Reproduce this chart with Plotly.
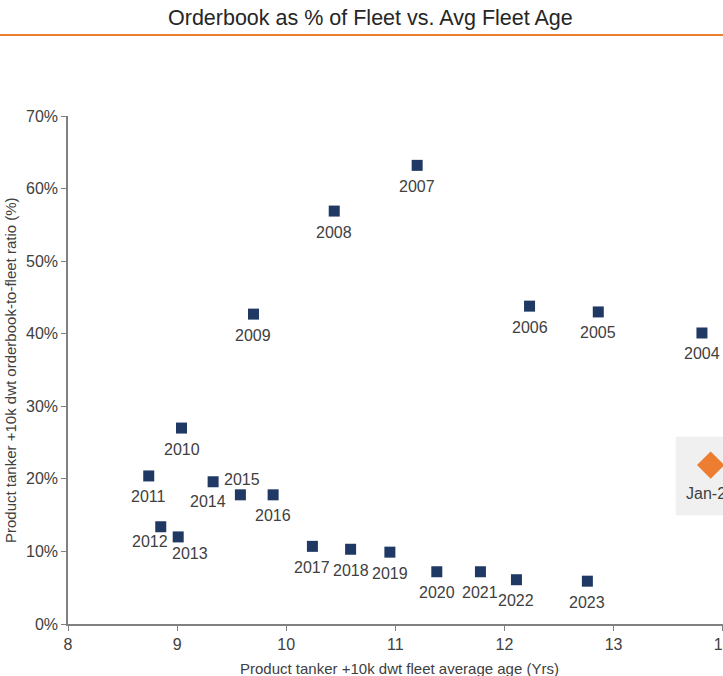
import plotly.graph_objects as go

# Product tanker fleet: average age (years) vs orderbook-to-fleet ratio (%)
years = ["2004", "2005", "2006", "2007", "2008", "2009", "2010", "2011", "2012",
         "2013", "2014", "2015", "2016", "2017", "2018", "2019", "2020", "2021",
         "2022", "2023"]
avg_age = [13.81, 12.86, 12.23, 11.20, 10.44, 9.70, 9.04, 8.74, 8.85,
           9.01, 9.33, 9.58, 9.88, 10.24, 10.59, 10.95, 11.38, 11.78,
           12.11, 12.76]
orderbook_pct = [40.1, 43.0, 43.8, 63.2, 56.9, 42.7, 27.0, 20.4, 13.4,
                 12.0, 19.6, 17.8, 17.8, 10.7, 10.3, 9.9, 7.2, 7.2,
                 6.1, 5.9]

current_label = ["Jan-24"]
current_age = [13.89]
current_pct = [21.9]

NAVY = "#1f3864"
ORANGE = "#ed7d31"
TEXT = "#404040"
AXIS = "#808080"
FONT = "Liberation Sans, Arial, sans-serif"
LABEL_SIZE = 16

fig = go.Figure()

fig.add_trace(go.Scatter(
    x=avg_age, y=orderbook_pct, mode="markers",
    marker=dict(symbol="square", size=11, color=NAVY),
    hoverinfo="skip", showlegend=False, cliponaxis=False,
))

# year labels sit below each marker; a few are nudged to avoid crowding
nudge = {"2012": (-11, -15), "2013": (12, -17), "2014": (-5, -20),
         "2015": (2, 15), "2010": (1, -21)}
for yr, xa, ya in zip(years, avg_age, orderbook_pct):
    dx, dy = nudge.get(yr, (0, -21))
    fig.add_annotation(x=xa, y=ya, text=yr, showarrow=False,
                       xshift=dx, yshift=dy,
                       xanchor="center", yanchor="middle",
                       font=dict(family=FONT, size=LABEL_SIZE, color=TEXT))

# highlighted current point on a light grey panel
cx, cy = current_age[0], current_pct[0]
fig.add_shape(type="rect", xref="x", yref="y",
              x0=cx - 0.32, x1=cx + 0.6, y0=cy - 6.9, y1=cy + 3.9,
              fillcolor="#f0f0f0", line=dict(width=0), layer="below")

fig.add_trace(go.Scatter(
    x=current_age, y=current_pct, mode="markers",
    marker=dict(symbol="diamond", size=21, color=ORANGE),
    hoverinfo="skip", showlegend=False, cliponaxis=False,
))
fig.add_annotation(x=cx, y=cy, text=current_label[0], showarrow=False,
                   xshift=0, yshift=-28, xanchor="center", yanchor="middle",
                   font=dict(family=FONT, size=LABEL_SIZE, color=TEXT))

W, H = 723, 676
L, R, T, B = 68, 0, 116, 52
pw = W - L - R
ph = H - T - B

# orange rule under the title, spanning the full width
fig.add_shape(type="line", xref="paper", yref="paper",
              x0=-L / pw, x1=1 + 1 / pw,
              y0=1 + (T - 35) / ph, y1=1 + (T - 35) / ph,
              line=dict(color=ORANGE, width=2))

fig.add_annotation(
    text="Orderbook as % of Fleet vs. Avg Fleet Age",
    xref="paper", yref="paper",
    x=(370 - L) / pw, y=1 + (T - 18) / ph,
    showarrow=False, xanchor="center", yanchor="middle",
    font=dict(family=FONT, size=21.5, color="#262626"),
)

fig.add_annotation(
    text="Product tanker +10k dwt orderbook-to-fleet ratio (%)",
    xref="paper", yref="paper",
    x=-(L - 10) / pw, y=(624 - 370) / ph,
    textangle=-90, showarrow=False,
    xanchor="center", yanchor="middle",
    font=dict(family=FONT, size=15, color=TEXT),
)

fig.add_annotation(
    text="Product tanker +10k dwt fleet average age (Yrs)",
    xref="paper", yref="paper",
    x=(399 - L) / pw, y=-(668 - 624) / ph,
    showarrow=False, xanchor="center", yanchor="middle",
    font=dict(family=FONT, size=15, color=TEXT),
)

fig.update_xaxes(
    range=[8, 14.003], dtick=1, tick0=8,
    showgrid=False, zeroline=False, automargin=False,
    showline=True, linecolor=AXIS, linewidth=1.5,
    ticks="outside", ticklen=5, tickcolor=AXIS,
    ticklabeloverflow="allow",
    tickfont=dict(family=FONT, size=16, color=TEXT),
)
fig.update_yaxes(
    range=[0, 70], dtick=10, ticksuffix="%",
    showgrid=False, zeroline=False, automargin=False,
    showline=True, linecolor=AXIS, linewidth=1.5,
    ticks="outside", ticklen=5, tickcolor=AXIS,
    tickfont=dict(family=FONT, size=16, color=TEXT),
)

fig.update_layout(
    width=W, height=H,
    margin=dict(l=L, r=R, t=T, b=B, pad=0, autoexpand=False),
    paper_bgcolor="white", plot_bgcolor="white",
    font=dict(family=FONT, color=TEXT),
)

fig.write_html("out.html")
